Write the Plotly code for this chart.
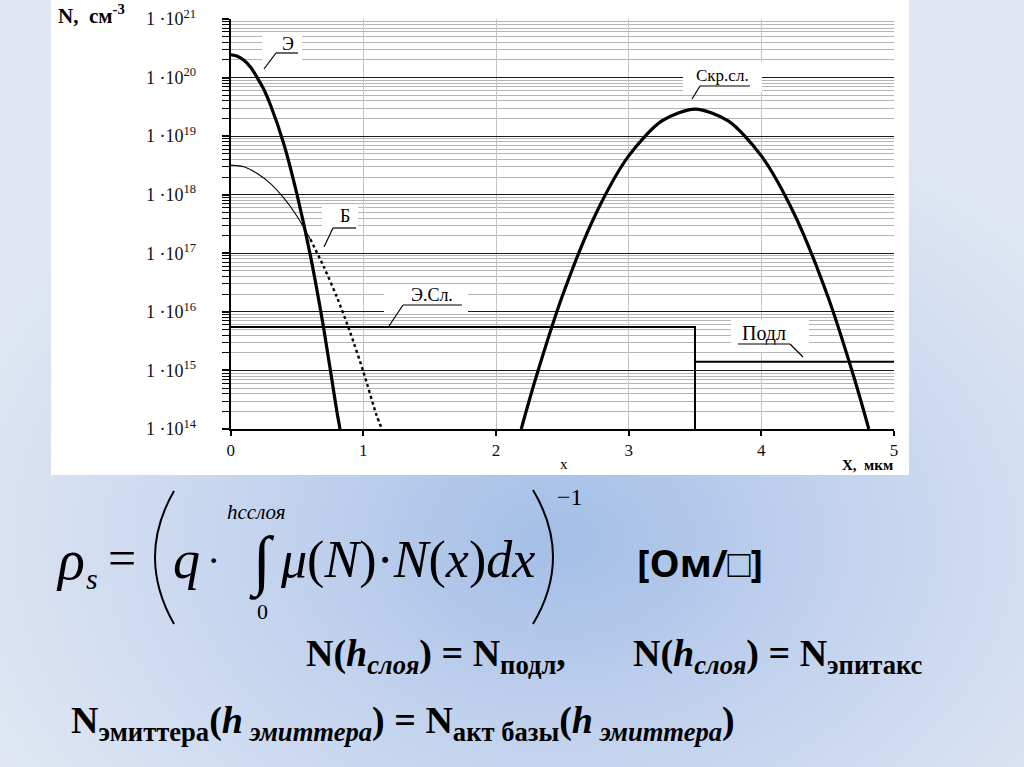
import plotly.graph_objects as go

# ---------------- data ----------------
emitter_x = [0.0, 0.05, 0.1, 0.15, 0.2, 0.25, 0.3, 0.4, 0.5, 0.6, 0.7, 0.8, 0.824]
emitter_n = [2.45e20, 2.32e20, 1.97e20, 1.5e20, 1.0e20, 6.25e19, 3.4e19, 7.4e18, 1.0e18, 9.3e16, 5.4e15, 2.0e14, 1.0e14]

base_x = [0.0, 0.1, 0.2, 0.3, 0.4, 0.5, 0.6, 0.7, 0.8, 0.9, 1.0, 1.1, 1.14]
base_n = [3.2e18, 3.0e18, 2.3e18, 1.55e18, 8.8e17, 4.3e17, 1.74e17, 6.0e16, 1.8e16, 4.5e15, 9.5e14, 1.7e14, 1.0e14]

epi_x = [0.0, 3.5, 3.5]
epi_n = [5.5e15, 5.5e15, 1.0e14]

sub_x = [3.5, 5.0]
sub_n = [1.4e15, 1.4e15]

buried_x = [2.19, 2.3, 2.5, 2.75, 3.0, 3.25, 3.5, 3.75, 4.0, 4.25, 4.5, 4.7, 4.81]
buried_n = [1.0e14, 7.4e14, 1.86e16, 4.6e17, 4.6e18, 1.82e19, 2.9e19, 1.82e19, 4.6e18, 4.6e17, 1.86e16, 7.4e14, 1.0e14]

x_ticks = [0, 1, 2, 3, 4, 5]
y_exponents = [14, 15, 16, 17, 18, 19, 20, 21]
y_ticks = [10.0 ** e for e in y_exponents]
y_ticktext = ["1 \u00b710<sup>%d</sup>" % e for e in y_exponents]

# ---------------- helpers ----------------
W, H = 1024, 767


def px(x):
    return x / W


def py(y):
    return 1 - y / H


SERIF = "Liberation Serif"
fig = go.Figure()

# slide background (radial blue gradient) + white chart card on a full-page subplot
gcx, gcy = px(560), py(540)
fig.add_trace(go.Scatter(
    x=[gcx - 0.62, gcx + 0.62, gcx + 0.62, gcx - 0.62, gcx - 0.62],
    y=[gcy - 0.6, gcy - 0.6, gcy + 0.6, gcy + 0.6, gcy - 0.6],
    mode="lines", line=dict(width=0), fill="toself",
    fillgradient=dict(type="radial",
                      colorscale=[[0, "#a3bee6"], [0.45, "#c3d3ee"], [1, "#e0e7f3"]]),
    hoverinfo="skip", showlegend=False, xaxis="x", yaxis="y"))
fig.add_trace(go.Scatter(
    x=[px(51), px(909), px(909), px(51), px(51)],
    y=[py(0), py(0), py(475), py(475), py(0)],
    mode="lines", line=dict(width=0), fill="toself", fillcolor="white",
    hoverinfo="skip", showlegend=False, xaxis="x", yaxis="y"))

# ---------------- chart traces ----------------
fig.add_trace(go.Scatter(x=emitter_x, y=emitter_n, mode="lines",
                         line=dict(color="black", width=3.2, shape="spline", smoothing=0.7),
                         xaxis="x2", yaxis="y2", showlegend=False))
fig.add_trace(go.Scatter(x=base_x[:7], y=base_n[:7], mode="lines",
                         line=dict(color="black", width=1.1, shape="spline", smoothing=0.7),
                         xaxis="x2", yaxis="y2", showlegend=False))
fig.add_trace(go.Scatter(x=base_x[6:], y=base_n[6:], mode="lines",
                         line=dict(color="black", width=2.4, dash="dot", shape="spline", smoothing=0.7),
                         xaxis="x2", yaxis="y2", showlegend=False))
fig.add_trace(go.Scatter(x=epi_x, y=epi_n, mode="lines", line=dict(color="black", width=2),
                         xaxis="x2", yaxis="y2", showlegend=False))
fig.add_trace(go.Scatter(x=sub_x, y=sub_n, mode="lines", line=dict(color="black", width=2),
                         xaxis="x2", yaxis="y2", showlegend=False))
fig.add_trace(go.Scatter(x=buried_x, y=buried_n, mode="lines",
                         line=dict(color="black", width=3.2, shape="spline", smoothing=0.8),
                         xaxis="x2", yaxis="y2", showlegend=False))

# ---------------- layout ----------------
fig.update_layout(
    template="none",
    width=W, height=H, autosize=False,
    margin=dict(l=0, r=0, t=0, b=0, pad=0, autoexpand=False),
    paper_bgcolor="#e0e7f3", plot_bgcolor="rgba(0,0,0,0)",
    showlegend=False,
    xaxis=dict(domain=[0, 1], range=[0, 1], visible=False, fixedrange=True, automargin=False),
    yaxis=dict(domain=[0, 1], range=[0, 1], visible=False, fixedrange=True, automargin=False),
    xaxis2=dict(domain=[px(230.7), px(894)], range=[0, 5], anchor="y2", automargin=False,
                tickmode="array", tickvals=x_ticks,
                showgrid=True, gridcolor="#c4c4c4", gridwidth=1, zeroline=False,
                showline=True, linecolor="black", linewidth=2,
                ticks="outside", ticklen=5, tickcolor="black", tickwidth=1.5,
                tickfont=dict(family=SERIF, size=17, color="#111")),
    yaxis2=dict(domain=[py(429), py(19)], type="log", range=[14, 21], anchor="x2", automargin=False,
                tickmode="array", tickvals=y_ticks, ticktext=y_ticktext,
                showgrid=True, gridcolor="#1a1a1a", gridwidth=1.3, zeroline=False,
                showline=True, linecolor="black", linewidth=2,
                ticks="outside", ticklen=7, tickcolor="black", tickwidth=1.5,
                ticklabelstandoff=22,
                tickfont=dict(family=SERIF, size=18, color="#111"),
                minor=dict(dtick="D1", showgrid=True, gridcolor="#b4b4b4", gridwidth=1,
                           ticks="outside", ticklen=7, tickcolor="black", tickwidth=1.3)),
)

shapes = []
annotations = []


def txt(x, y, s, size, family=SERIF, xanchor="center", yanchor="middle", color="black"):
    annotations.append(dict(x=px(x), y=py(y), xref="paper", yref="paper", text=s, showarrow=False,
                            xanchor=xanchor, yanchor=yanchor,
                            font=dict(family=family, size=size, color=color)))


def white_box(x0, y0, x1, y1):
    shapes.append(dict(type="rect", xref="paper", yref="paper", x0=px(x0), x1=px(x1), y0=py(y1), y1=py(y0),
                       fillcolor="white", line=dict(width=0), layer="above"))


def seg(x0, y0, x1, y1, w=1.2, color="black"):
    shapes.append(dict(type="line", xref="paper", yref="paper", x0=px(x0), y0=py(y0), x1=px(x1), y1=py(y1),
                       line=dict(color=color, width=w), layer="above"))


# curve labels with leader lines
white_box(262, 36, 302, 64)
white_box(322, 205, 358, 229)
white_box(384, 284, 468, 312)
white_box(731, 320, 809, 352)
white_box(683, 62, 762, 92)

seg(276, 53, 298, 53); seg(276, 53, 264, 69)
seg(333, 228, 356, 228); seg(333, 228, 324, 247)
seg(403, 305, 462, 305); seg(403, 305, 389, 326)
seg(738, 344, 790, 344); seg(790, 344, 803, 357)
seg(700, 86, 750, 86); seg(700, 86, 692, 99)

txt(288, 44, "Э", 18)
txt(345, 216, "Б", 18)
txt(432, 295, "Э.Сл.", 18)
txt(764, 333, "Подл", 20)
txt(722, 75, "Скр.сл.", 17)

# axis titles
txt(56, 14, "<b>N,  см<sup>-3</sup></b>", 21, xanchor="left")
txt(564, 464, "x", 15)
txt(895, 465, "<b>X,  мкм</b>", 15, xanchor="right")

# ---------------- formula ----------------
txt(70, 560, "<i>ρ</i>", 56)
txt(92, 578, "<i>s</i>", 30)
txt(122, 558, "=", 50)
# big brackets
shapes.append(dict(type="path", xref="paper", yref="paper",
                   path="M %f,%f Q %f,%f %f,%f" % (px(174), py(491), px(136), py(557), px(174), py(624)),
                   line=dict(color="black", width=2)))
shapes.append(dict(type="path", xref="paper", yref="paper",
                   path="M %f,%f Q %f,%f %f,%f" % (px(533), py(490), px(573), py(557), px(533), py(624)),
                   line=dict(color="black", width=2)))
txt(186, 560, "<i>q</i>", 54)
txt(213, 560, "·", 40)
txt(262, 561, "∫", 66)
txt(225, 512, "<i>hcслоя</i>", 21, xanchor="left")
txt(262, 611, "0", 22)
txt(278, 560, "<i>μ</i>(<i>N</i>)·<i>N</i>(<i>x</i>)<i>dx</i>", 52, xanchor="left")
txt(570, 497, "−1", 24)
txt(700, 562, "<b>[Ом/□]</b>", 38, family="Open Sans")

txt(304, 656, "<b>N(<i>h</i><sub><i>слоя</i></sub>) = N<sub>подл</sub>,</b>", 38, xanchor="left")
txt(631, 656, "<b>N(<i>h</i><sub><i>слоя</i></sub>) = N<sub>эпитакс</sub></b>", 38, xanchor="left")
txt(69, 723, "<b>N<sub>эмиттера</sub>(<i>h</i><sub><i> эмиттера</i></sub>) = N<sub>акт базы</sub>(<i>h</i><sub><i> эмиттера</i></sub>)</b>",
    38, xanchor="left")

fig.update_layout(shapes=shapes, annotations=annotations)

fig.write_html("out.html", config={"displayModeBar": False},
               post_script="document.body.style.margin='0';document.body.style.overflow='hidden';")
